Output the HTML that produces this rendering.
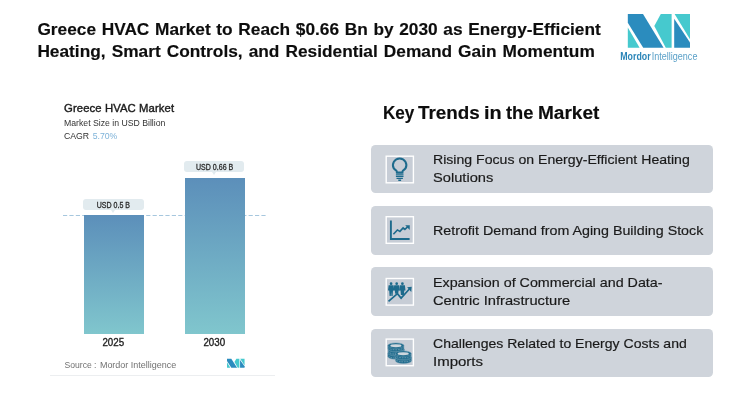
<!DOCTYPE html>
<html><head><meta charset="utf-8">
<style>
html,body{margin:0;padding:0;background:#fff;}
body{width:750px;height:402px;position:relative;overflow:hidden;font-family:"Liberation Sans",sans-serif;color:#111;}
.abs{position:absolute;white-space:nowrap;}
#title{left:37.4px;top:19.3px;-webkit-text-stroke:0.15px #0d0d0d;font-weight:bold;font-size:17.3px;line-height:21.4px;color:#0d0d0d;}
#title span{display:inline-block;transform-origin:0 50%;}
#kt{left:383px;top:102px;font-weight:bold;font-size:18px;line-height:22px;color:#0d0d0d;-webkit-text-stroke:0.15px #0d0d0d;}
#kt span{position:absolute;top:0;transform-origin:0 50%;}
.box{position:absolute;left:371.2px;width:341.6px;height:48.8px;background:#cfd4db;border-radius:4.5px;}
.bt{position:absolute;left:61.6px;font-size:13.4px;line-height:18px;color:#1a1a1a;white-space:nowrap;-webkit-text-stroke:0.18px #1a1a1a;}
.bt span{display:inline-block;transform-origin:0 50%;}
.bar{position:absolute;background:linear-gradient(#5c8fba,#80c6cd);}
.pill{position:absolute;background:#e2ebef;border-radius:3px;height:11.1px;font-size:8.2px;line-height:13px;text-align:center;color:#222;-webkit-text-stroke:0.3px #2c2c2c;color:#2c2c2c;}
.pill span{display:inline-block;transform:scaleX(0.86);}
.pill:after{content:"";position:absolute;left:50%;margin-left:-2.4px;top:10.6px;border-left:2.4px solid transparent;border-right:2.4px solid transparent;border-top:3.2px solid #e2ebef;}
#overlay{position:absolute;left:0;top:0;}
#wrap{position:absolute;left:0;top:0;width:750px;height:402px;will-change:transform;}
</style></head><body><div id="wrap">
<div id="title" class="abs"><span id="t1" style="word-spacing:0.85px">Greece HVAC Market to Reach $0.66 Bn by 2030 as Energy-Efficient</span><br><span id="t2" style="word-spacing:1.3px">Heating, Smart Controls, and Residential Demand Gain Momentum</span></div>

<!-- chart -->
<div class="abs" style="left:64px;top:100.7px;font-size:11.3px;line-height:14px;color:#1c1c1c;-webkit-text-stroke:0.4px #1c1c1c;letter-spacing:0.1px;">Greece HVAC Market</div>
<div class="abs" style="left:64px;top:117.5px;font-size:8.7px;line-height:10px;color:#333;">Market Size in USD Billion</div>
<div class="abs" style="left:64px;top:131px;font-size:8.7px;line-height:10px;color:#333;">CAGR <span style="color:#7fb3d9;margin-left:1.2px">5.70%</span></div>

<svg class="abs" style="left:0;top:0" width="750" height="402"><line x1="63" y1="215.5" x2="267" y2="215.5" stroke="#8fb9d6" stroke-width="0.8" stroke-dasharray="4.2 2.2"/></svg>
<div class="bar" style="left:83.7px;top:215px;width:60.5px;height:119px;"></div>
<div class="bar" style="left:184.8px;top:177.7px;width:60.5px;height:156.3px;"></div>
<div class="pill" style="left:83.4px;top:199px;width:60.4px;"><span>USD 0.5 B</span></div>
<div class="pill" style="left:184px;top:161.1px;width:60.4px;"><span>USD 0.66 B</span></div>
<div class="abs" style="left:83.7px;width:60.5px;top:337.4px;margin-left:-0.4px;text-align:center;font-size:10.4px;line-height:12px;color:#222;-webkit-text-stroke:0.35px #222;transform:scaleX(0.94);">2025</div>
<div class="abs" style="left:184.8px;width:60.5px;top:337.4px;margin-left:-0.4px;text-align:center;font-size:10.4px;line-height:12px;color:#222;-webkit-text-stroke:0.35px #222;transform:scaleX(0.94);">2030</div>
<div class="abs" style="left:64.5px;top:359.5px;font-size:8.6px;line-height:10px;color:#727272;">Source :<span style="display:inline-block;width:3.4px"></span><span style="font-size:8.97px">Mordor Intelligence</span></div>
<div class="abs" style="left:50px;top:375px;width:225px;height:1px;background:#eceef0;"></div>

<!-- right -->
<div id="kt" class="abs"><span style="left:-0.07px;transform:scaleX(0.950)">Key</span><span style="left:35.10px;transform:scaleX(1.047)">Trends</span><span style="left:100.75px;transform:scaleX(1.107)">in</span><span style="left:123.00px;transform:scaleX(1.017)">the</span><span style="left:155.21px;transform:scaleX(1.058)">Market</span></div>

<div class="box" style="top:144.5px">
  <div class="bt" style="top:6.6px"><span style="transform:scaleX(1.053)">Rising Focus on Energy-Efficient Heating</span><br><span style="transform:scaleX(1.095)">Solutions</span></div>
</div>
<div class="box" style="top:206px">
  <div class="bt" style="top:15.7px"><span style="transform:scaleX(1.065)">Retrofit Demand from Aging Building Stock</span></div>
</div>
<div class="box" style="top:267px">
  <div class="bt" style="top:7.2px"><span style="transform:scaleX(1.067)">Expansion of Commercial and Data-</span><br><span style="transform:scaleX(1.098)">Centric Infrastructure</span></div>
</div>
<div class="box" style="top:328.6px;height:48.6px">
  <div class="bt" style="top:6.6px"><span style="transform:scaleX(1.049)">Challenges Related to Energy Costs and</span><br><span style="transform:scaleX(1.12)">Imports</span></div>
</div>

<svg id="overlay" width="750" height="402" viewBox="0 0 750 402">

 <!-- icon squares -->
 <g fill="#c7cdd6" stroke="#fff" stroke-width="1.4">
  <rect x="386.2" y="156.2" width="27.2" height="26.6"/>
  <rect x="386.2" y="216.7" width="27.2" height="26.6"/>
  <rect x="386.2" y="278.5" width="27.2" height="26.6"/>
  <rect x="386.2" y="339.1" width="27.2" height="26.6"/>
 </g>
 <!-- bulb -->
 <g fill="none" stroke="#1d6a8c" stroke-linecap="butt" stroke-linejoin="round">
  <path d="M396.8,172.4 L396.8,171.6 C396.8,170.4 394.8,169.8 393.8,168.4 A6.7,6.7 0 1 1 405.5,168.4 C404.5,169.8 402.5,170.4 402.5,171.6 L402.5,172.4 Z" stroke-width="2"/>
  <path d="M395.9,174.1 H403.5 M395.9,176.3 H403.5 M396.5,178.4 H402.9 M398.3,180.2 H401.1" stroke-width="1.4"/>
 </g>
 <!-- chart -->
 <g fill="none" stroke="#1d6a8c">
  <path d="M390.9,220.4 V239 H409.6" stroke-width="1.9"/>
  <path d="M393.4,234.2 L397.4,229.9 L399.9,231.4 L403.1,227.9 L404.9,229.4 L407.6,226.9" stroke-width="1.6"/>
 </g>
 <polygon points="405.2,225.3 409.8,225.2 409.7,229.9" fill="#1d6a8c"/>
 <!-- people -->
 <g fill="#1d6a8c">
  <circle cx="391.1" cy="283.7" r="1.35"/><circle cx="396.7" cy="283.7" r="1.35"/><circle cx="402.4" cy="283.7" r="1.35"/>
  <path d="M388.6,285.3 h5 l0.6,5.2 h-1.2 l-0.4,5.4 h-1.2 l-0.3,-4 l-0.3,4 h-1.2 l-0.4,-5.4 h-1.2 z"/>
  <path d="M394.2,285.3 h5 l0.6,5.2 h-1.2 l-0.4,3.2 h-3 l-0.4,-3.2 h-1.2 z"/>
  <path d="M399.9,285.3 h5 l0.6,5.2 h-1.2 l-0.4,4.4 h-3 l-0.4,-4.4 h-1.2 z"/>
  <polygon points="407.1,287.3 411.7,286.8 411.3,292"/>
 </g>
 <path d="M388.5,301.4 L397.4,293.7 L401.1,298.1 L409.6,288.8" fill="none" stroke="#1d6a8c" stroke-width="1.7"/>
 <!-- coins -->
 <g fill="#1d6a8c" stroke="#6f9db3" stroke-width="0.5">
  <path d="M387.9,353.4 v3.2 a8,2.7 0 0 0 16,0 v-3.2 z"/><ellipse cx="395.9" cy="353.4" rx="8" ry="2.7"/>
  <path d="M388.3,349.5 v3.2 a8,2.7 0 0 0 16,0 v-3.2 z"/><ellipse cx="396.3" cy="349.5" rx="8" ry="2.7"/>
  <path d="M387.9,345.6 v3.2 a8,2.7 0 0 0 16,0 v-3.2 z"/><ellipse cx="395.9" cy="345.6" rx="8" ry="2.7"/>
  <path d="M395.5,357.6 v3.2 a8,2.7 0 0 0 16,0 v-3.2 z"/><ellipse cx="403.5" cy="357.6" rx="8" ry="2.7"/>
  <path d="M395.2,353.6 v3.2 a8,2.7 0 0 0 16,0 v-3.2 z"/><ellipse cx="403.2" cy="353.6" rx="8" ry="2.7"/>
 </g>
 <ellipse cx="395.9" cy="345.7" rx="5.6" ry="1.45" fill="#cfd7de"/>
 <ellipse cx="403.2" cy="353.7" rx="5.6" ry="1.45" fill="#cfd7de"/>
 <g fill="none" stroke="#8fb2c4" stroke-width="1" stroke-dasharray="0.7 0.9">
  <path d="M388.6,348.2 a8,2.7 0 0 0 14.6,0"/>
  <path d="M389,352.1 a8,2.7 0 0 0 7,2.1"/>
  <path d="M388.6,356 a8,2.7 0 0 0 7,2.1"/>
  <path d="M395.9,356.2 a8,2.7 0 0 0 14.6,0"/>
  <path d="M396.2,360.2 a8,2.7 0 0 0 14.6,0"/>
 </g>
 <!-- big logo -->
 <g id="mlogo">
  <polygon points="627.8,14 643,14 663.6,47.7 643.2,47.7 627.8,22.7" fill="#2b8cbe"/>
  <polygon points="627.8,27.6 639.6,47.7 627.8,47.7" fill="#46c9ce"/>
  <polygon points="660.8,14 671.6,14 671.6,47.7 665.8,47.7 654.3,26" fill="#46c9ce"/>
  <polygon points="674.6,14 690,14 690,39.2" fill="#46c9ce"/>
  <polygon points="674.2,18.8 690,42.6 690,47.7 674.2,47.7" fill="#2b8cbe"/>
 </g>
 <text x="620.3" y="59.5" font-family="Liberation Sans, sans-serif" font-size="10.2" font-weight="bold" fill="#2a85b8" textLength="30.3" lengthAdjust="spacingAndGlyphs">Mordor</text>
 <text x="651.8" y="59.5" font-family="Liberation Sans, sans-serif" font-size="10.2" fill="#5aa0c8" textLength="45.6" lengthAdjust="spacingAndGlyphs">Intelligence</text>
 <!-- small logo -->
 <use href="#mlogo" transform="translate(227,358.7) scale(0.282,0.266) translate(-627.8,-14)"/>
</svg>
</div></body></html>
